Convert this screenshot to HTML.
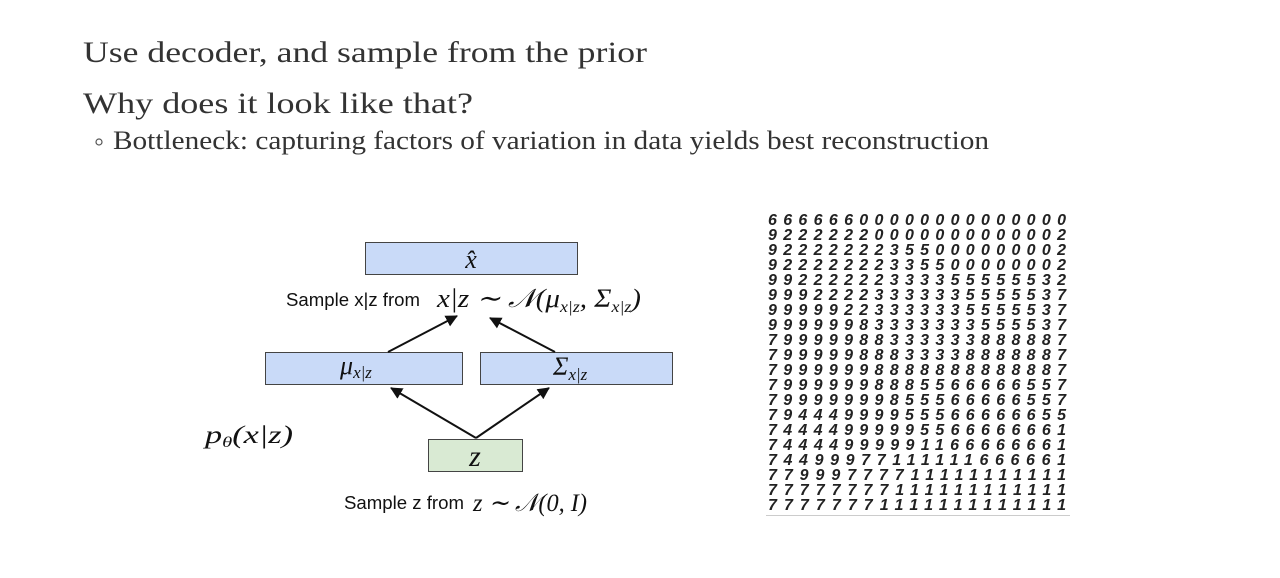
<!DOCTYPE html>
<html><head><meta charset="utf-8"><style>
html,body{margin:0;padding:0;background:#fff;width:1280px;height:578px;overflow:hidden}
svg{display:block}
.ser{font-family:"Liberation Serif",serif;fill:#333}
.sans{font-family:"Liberation Sans",sans-serif;fill:#111;font-size:18px}
.m{font-family:"Liberation Serif",serif;font-style:italic;fill:#111}
.dg{font-family:"Liberation Sans",sans-serif;font-weight:bold;font-style:italic;font-size:16px;fill:#222}
</style></head><body>
<svg width="1280" height="578" xmlns="http://www.w3.org/2000/svg">
<defs><marker id="ah" markerWidth="12" markerHeight="12" refX="11" refY="6" orient="auto" markerUnits="userSpaceOnUse"><path d="M0,0 L12,6 L0,12 z" fill="#111"/></marker></defs>
<text class="ser" x="83" y="62" font-size="30" textLength="564" lengthAdjust="spacingAndGlyphs">Use decoder, and sample from the prior</text>
<text class="ser" x="83" y="113" font-size="30" textLength="390" lengthAdjust="spacingAndGlyphs">Why does it look like that?</text>
<circle cx="99" cy="142" r="3" fill="none" stroke="#555" stroke-width="1.2"/>
<text class="ser" x="113" y="149" font-size="26" textLength="876" lengthAdjust="spacingAndGlyphs">Bottleneck: capturing factors of variation in data yields best reconstruction</text>

<rect x="365.5" y="242.5" width="212" height="32" fill="#c9daf8" stroke="#444"/>
<text class="m" x="471" y="268" font-size="26" text-anchor="middle">x̂</text>
<text class="sans" x="286" y="306" textLength="134" lengthAdjust="spacingAndGlyphs">Sample x|z from</text>
<text class="m" x="437" y="307" font-size="26" textLength="204" lengthAdjust="spacingAndGlyphs">x|z ∼ 𝒩(μ<tspan font-size="16" dy="5">x|z</tspan><tspan dy="-5">, Σ</tspan><tspan font-size="16" dy="5">x|z</tspan><tspan dy="-5">)</tspan></text>
<rect x="265.5" y="352.5" width="197" height="32" fill="#c9daf8" stroke="#444"/>
<text class="m" x="340" y="374" font-size="26">μ<tspan font-size="17" dy="4">x|z</tspan></text>
<rect x="480.5" y="352.5" width="192" height="32" fill="#c9daf8" stroke="#444"/>
<text class="m" x="553" y="375" font-size="26">Σ<tspan font-size="17" dy="5">x|z</tspan></text>
<rect x="428.5" y="439.5" width="94" height="32" fill="#d9ead3" stroke="#444"/>
<text class="m" x="475" y="466" font-size="30" text-anchor="middle">z</text>
<text class="m" x="205" y="443" font-size="25" textLength="88" lengthAdjust="spacingAndGlyphs">p<tspan font-size="15" dy="4">θ</tspan><tspan dy="-4">(x|z)</tspan></text>
<text class="sans" x="344" y="509" textLength="120" lengthAdjust="spacingAndGlyphs">Sample z from</text>
<text class="m" x="473" y="511" font-size="25" textLength="114" lengthAdjust="spacingAndGlyphs">z ∼ 𝒩(0, I)</text>
<g stroke="#111" stroke-width="2" fill="none" marker-end="url(#ah)">
<line x1="388" y1="352" x2="457" y2="316"/>
<line x1="555" y1="352" x2="490" y2="318"/>
<line x1="476" y1="438" x2="391" y2="388"/>
<line x1="476" y1="438" x2="549" y2="388"/>
</g>

<g class="dg">
<text x="768" y="225" textLength="298" lengthAdjust="spacing">66666600000000000000</text>
<text x="768" y="240" textLength="298" lengthAdjust="spacing">92222220000000000002</text>
<text x="768" y="255" textLength="298" lengthAdjust="spacing">92222222355000000002</text>
<text x="768" y="270" textLength="298" lengthAdjust="spacing">92222222335500000002</text>
<text x="768" y="285" textLength="298" lengthAdjust="spacing">99222222333355555532</text>
<text x="768" y="300" textLength="298" lengthAdjust="spacing">99922223333335555537</text>
<text x="768" y="315" textLength="298" lengthAdjust="spacing">99999223333335555537</text>
<text x="768" y="330" textLength="298" lengthAdjust="spacing">99999983333333555537</text>
<text x="768" y="345" textLength="298" lengthAdjust="spacing">79999988333333888887</text>
<text x="768" y="360" textLength="298" lengthAdjust="spacing">79999988833338888887</text>
<text x="768" y="375" textLength="298" lengthAdjust="spacing">79999998888888888887</text>
<text x="768" y="390" textLength="298" lengthAdjust="spacing">79999998885566666557</text>
<text x="768" y="405" textLength="298" lengthAdjust="spacing">79999999855566666557</text>
<text x="768" y="420" textLength="298" lengthAdjust="spacing">79444999955566666655</text>
<text x="768" y="435" textLength="298" lengthAdjust="spacing">74444999995566666661</text>
<text x="768" y="450" textLength="298" lengthAdjust="spacing">74444999991166666661</text>
<text x="768" y="465" textLength="298" lengthAdjust="spacing">74499977111111666661</text>
<text x="768" y="480" textLength="298" lengthAdjust="spacing">77999777711111111111</text>
<text x="768" y="495" textLength="298" lengthAdjust="spacing">77777777111111111111</text>
<text x="768" y="510" textLength="298" lengthAdjust="spacing">77777771111111111111</text>
</g>
<line x1="766" y1="515.5" x2="1070" y2="515.5" stroke="#ccc" stroke-width="1"/>
</svg>
</body></html>
